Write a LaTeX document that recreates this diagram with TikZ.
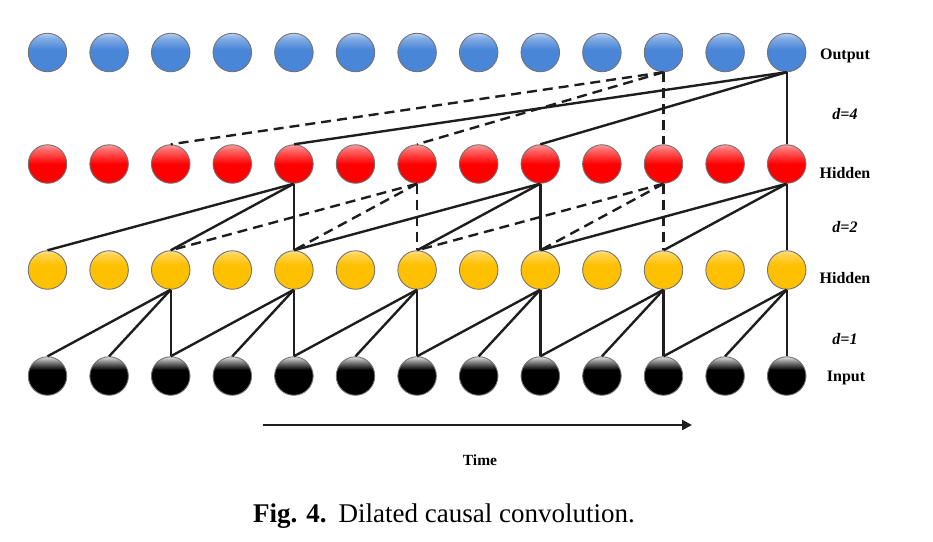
\documentclass[tikz,border=0pt]{standalone}
\usepackage{fontspec}
\setmainfont{Liberation Serif}
\usetikzlibrary{arrows.meta}
\definecolor{cBlue}{HTML}{4A86D8}
\definecolor{cRed}{HTML}{FF0000}
\definecolor{cYel}{HTML}{FFC000}
\definecolor{cBlk}{HTML}{000000}
\definecolor{lnCol}{HTML}{1E1E1E}
\pgfdeclareverticalshading{ballblue}{100bp}{color(0bp)=(cBlue); color(54bp)=(cBlue); color(68bp)=(cBlue!70!white); color(75bp)=(cBlue!40!white); color(100bp)=(cBlue!40!white)}
\pgfdeclareverticalshading{ballred}{100bp}{color(0bp)=(cRed); color(50bp)=(cRed); color(68bp)=(cRed!60!white); color(75bp)=(cRed!40!white); color(100bp)=(cRed!40!white)}
\pgfdeclareverticalshading{ballyel}{100bp}{color(0bp)=(cYel); color(56bp)=(cYel); color(70bp)=(cYel!70!white); color(75bp)=(cYel!45!white); color(100bp)=(cYel!45!white)}
\pgfdeclareverticalshading{ballblk}{100bp}{color(0bp)=(cBlk); color(58bp)=(cBlk); color(66bp)=(cBlk!60!white); color(75bp)=(cBlk!12!white); color(100bp)=(cBlk!12!white)}
\tikzset{
  ball/.style={circle, minimum size=38.5pt, inner sep=0pt, draw=black!55, line width=0.9pt},
  outball/.style={ball, shading=ballblue},
  redball/.style={ball, shading=ballred},
  yelball/.style={ball, shading=ballyel},
  inball/.style={ball, shading=ballblk},
  conn/.style={draw=lnCol, line width=2.4pt},
  dconn/.style={conn, dash pattern=on 10pt off 6pt},
  lbl/.style={font=\fontsize{16}{18}\selectfont\bfseries, anchor=base},
  dlbl/.style={font=\fontsize{16}{18}\selectfont\bfseries\itshape, anchor=base},
}
\begin{document}
\begin{tikzpicture}[x=1pt,y=-1pt]
\useasboundingbox (0,0) rectangle (933,541);
\foreach \i in {0,...,12}{
  \pgfmathsetmacro{\xx}{47.5+61.6*\i}
  \node[outball] (o\i) at (\xx,52.5) {};
  \node[redball] (h\i) at (\xx,164) {};
  \node[yelball] (g\i) at (\xx,270) {};
  \node[inball] (i\i) at (\xx,376) {};
}
% d=1
\foreach \k in {2,4,6,8,10,12}{
  \pgfmathtruncatemacro{\a}{\k-2}
  \pgfmathtruncatemacro{\b}{\k-1}
  \draw[conn] (g\k.south) -- (i\a.north);
  \draw[conn] (g\k.south) -- (i\b.north);
  \draw[conn] (g\k.south) -- (i\k.north);
}
% d=2 solid
\foreach \k in {4,8,12}{
  \pgfmathtruncatemacro{\a}{\k-4}
  \pgfmathtruncatemacro{\b}{\k-2}
  \draw[conn] (h\k.south) -- (g\a.north);
  \draw[conn] (h\k.south) -- (g\b.north);
  \draw[conn] (h\k.south) -- (g\k.north);
}
% d=2 dashed
\foreach \k in {6,10}{
  \pgfmathtruncatemacro{\a}{\k-4}
  \pgfmathtruncatemacro{\b}{\k-2}
  \draw[dconn] (h\k.south) -- (g\a.north);
  \draw[dconn] (h\k.south) -- (g\b.north);
  \draw[dconn] (h\k.south) -- (g\k.north);
}
% d=4
\draw[conn] (o12.south) -- (h4.north);
\draw[conn] (o12.south) -- (h8.north);
\draw[conn] (o12.south) -- (h12.north);
\draw[dconn] (o10.south) -- (h2.north);
\draw[dconn] (o10.south) -- (h6.north);
\draw[dconn] (o10.south) -- (h10.north);
% labels
\node[lbl] (lout) at (845,59.3) {Output};
\node[dlbl] (ld4) at (845,119) {d=4};
\node[lbl] (lh1) at (845,178) {Hidden};
\node[dlbl] (ld2) at (845,232.7) {d=2};
\node[lbl] (lh2) at (845,283) {Hidden};
\node[dlbl] (ld1) at (845,344) {d=1};
\node[lbl] (lin) at (846,381.7) {Input};
% time arrow
\coordinate (ta) at (262.7,425);
\coordinate (tb) at (692,425);
\draw[draw=lnCol, line width=2.5pt, -{Triangle[length=10pt,width=10pt]}] (ta) -- (tb);
\node[font=\fontsize{15.5}{17}\selectfont\bfseries, anchor=base] (time) at (480,465) {Time};
% caption
\node[font=\fontsize{27}{30}\selectfont, anchor=base] (cap) at (444,522) {\textbf{Fig. 4.}\hspace{0.45em}Dilated causal convolution.};
\end{tikzpicture}
\end{document}
